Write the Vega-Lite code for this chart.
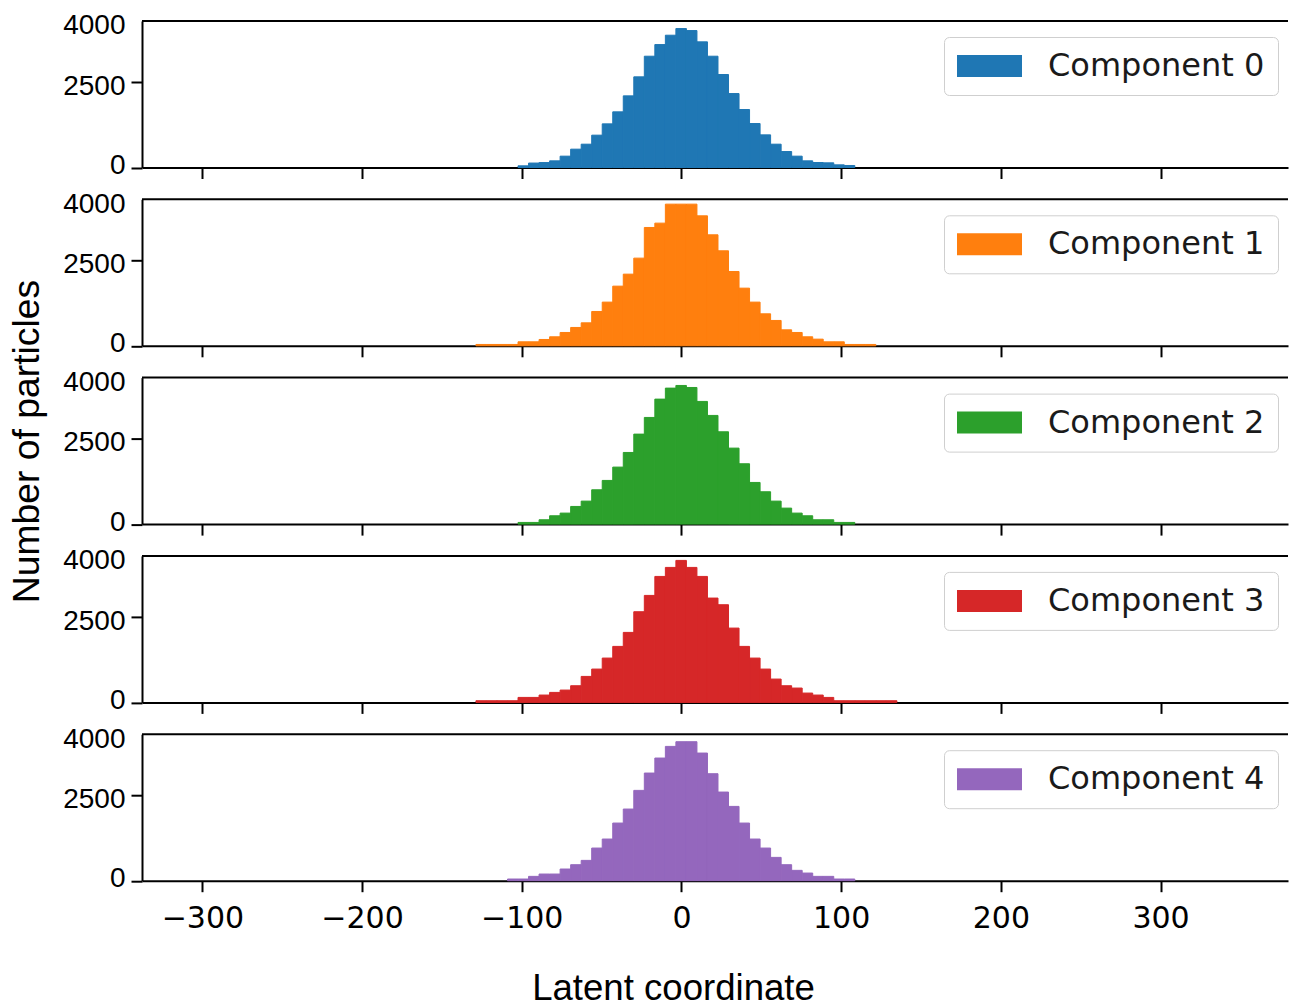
{
  "$schema": "https://vega.github.io/schema/vega-lite/v6.json",
  "padding": {"left": 7, "top": 11, "right": 0, "bottom": 0},
  "background": "white",
  "datasets": {
    "h": [
      {"c":"Component 0","b0":-102.34,"b1":-95.75,"n":49},
      {"c":"Component 0","b0":-95.75,"b1":-89.16,"n":130},
      {"c":"Component 0","b0":-89.16,"b1":-82.57,"n":145},
      {"c":"Component 0","b0":-82.57,"b1":-75.98,"n":195},
      {"c":"Component 0","b0":-75.98,"b1":-69.39,"n":332},
      {"c":"Component 0","b0":-69.39,"b1":-62.80,"n":537},
      {"c":"Component 0","b0":-62.80,"b1":-56.21,"n":683},
      {"c":"Component 0","b0":-56.21,"b1":-49.62,"n":947},
      {"c":"Component 0","b0":-49.62,"b1":-43.03,"n":1278},
      {"c":"Component 0","b0":-43.03,"b1":-36.44,"n":1630},
      {"c":"Component 0","b0":-36.44,"b1":-29.85,"n":2098},
      {"c":"Component 0","b0":-29.85,"b1":-23.26,"n":2654},
      {"c":"Component 0","b0":-23.26,"b1":-16.67,"n":3259},
      {"c":"Component 0","b0":-16.67,"b1":-10.08,"n":3600},
      {"c":"Component 0","b0":-10.08,"b1":-3.49,"n":3874},
      {"c":"Component 0","b0":-3.49,"b1":3.10,"n":4069},
      {"c":"Component 0","b0":3.10,"b1":9.69,"n":4010},
      {"c":"Component 0","b0":9.69,"b1":16.28,"n":3679},
      {"c":"Component 0","b0":16.28,"b1":22.87,"n":3259},
      {"c":"Component 0","b0":22.87,"b1":29.46,"n":2723},
      {"c":"Component 0","b0":29.46,"b1":36.05,"n":2166},
      {"c":"Component 0","b0":36.05,"b1":42.64,"n":1698},
      {"c":"Component 0","b0":42.64,"b1":49.23,"n":1288},
      {"c":"Component 0","b0":49.23,"b1":55.82,"n":956},
      {"c":"Component 0","b0":55.82,"b1":62.41,"n":683},
      {"c":"Component 0","b0":62.41,"b1":69.00,"n":468},
      {"c":"Component 0","b0":69.00,"b1":75.59,"n":332},
      {"c":"Component 0","b0":75.59,"b1":82.18,"n":195},
      {"c":"Component 0","b0":82.18,"b1":88.77,"n":146},
      {"c":"Component 0","b0":88.77,"b1":95.36,"n":137},
      {"c":"Component 0","b0":95.36,"b1":101.95,"n":78},
      {"c":"Component 0","b0":101.95,"b1":108.54,"n":59},

      {"c":"Component 1","b0":-128.70,"b1":-122.11,"n":39},
      {"c":"Component 1","b0":-122.11,"b1":-115.52,"n":39},
      {"c":"Component 1","b0":-115.52,"b1":-108.93,"n":39},
      {"c":"Component 1","b0":-108.93,"b1":-102.34,"n":39},
      {"c":"Component 1","b0":-102.34,"b1":-95.75,"n":117},
      {"c":"Component 1","b0":-95.75,"b1":-89.16,"n":117},
      {"c":"Component 1","b0":-89.16,"b1":-82.57,"n":185},
      {"c":"Component 1","b0":-82.57,"b1":-75.98,"n":264},
      {"c":"Component 1","b0":-75.98,"b1":-69.39,"n":390},
      {"c":"Component 1","b0":-69.39,"b1":-62.80,"n":537},
      {"c":"Component 1","b0":-62.80,"b1":-56.21,"n":673},
      {"c":"Component 1","b0":-56.21,"b1":-49.62,"n":1005},
      {"c":"Component 1","b0":-49.62,"b1":-43.03,"n":1279},
      {"c":"Component 1","b0":-43.03,"b1":-36.44,"n":1747},
      {"c":"Component 1","b0":-36.44,"b1":-29.85,"n":2098},
      {"c":"Component 1","b0":-29.85,"b1":-23.26,"n":2567},
      {"c":"Component 1","b0":-23.26,"b1":-16.67,"n":3465},
      {"c":"Component 1","b0":-16.67,"b1":-10.08,"n":3592},
      {"c":"Component 1","b0":-10.08,"b1":-3.49,"n":4148},
      {"c":"Component 1","b0":-3.49,"b1":3.10,"n":4148},
      {"c":"Component 1","b0":3.10,"b1":9.69,"n":4148},
      {"c":"Component 1","b0":9.69,"b1":16.28,"n":3806},
      {"c":"Component 1","b0":16.28,"b1":22.87,"n":3250},
      {"c":"Component 1","b0":22.87,"b1":29.46,"n":2782},
      {"c":"Component 1","b0":29.46,"b1":36.05,"n":2176},
      {"c":"Component 1","b0":36.05,"b1":42.64,"n":1688},
      {"c":"Component 1","b0":42.64,"b1":49.23,"n":1279},
      {"c":"Component 1","b0":49.23,"b1":55.82,"n":937},
      {"c":"Component 1","b0":55.82,"b1":62.41,"n":742},
      {"c":"Component 1","b0":62.41,"b1":69.00,"n":468},
      {"c":"Component 1","b0":69.00,"b1":75.59,"n":390},
      {"c":"Component 1","b0":75.59,"b1":82.18,"n":264},
      {"c":"Component 1","b0":82.18,"b1":88.77,"n":195},
      {"c":"Component 1","b0":88.77,"b1":95.36,"n":117},
      {"c":"Component 1","b0":95.36,"b1":101.95,"n":117},
      {"c":"Component 1","b0":101.95,"b1":108.54,"n":39},
      {"c":"Component 1","b0":108.54,"b1":115.13,"n":39},
      {"c":"Component 1","b0":115.13,"b1":121.72,"n":39},

      {"c":"Component 2","b0":-102.34,"b1":-95.75,"n":49},
      {"c":"Component 2","b0":-95.75,"b1":-89.16,"n":49},
      {"c":"Component 2","b0":-89.16,"b1":-82.57,"n":127},
      {"c":"Component 2","b0":-82.57,"b1":-75.98,"n":244},
      {"c":"Component 2","b0":-75.98,"b1":-69.39,"n":322},
      {"c":"Component 2","b0":-69.39,"b1":-62.80,"n":517},
      {"c":"Component 2","b0":-62.80,"b1":-56.21,"n":673},
      {"c":"Component 2","b0":-56.21,"b1":-49.62,"n":1005},
      {"c":"Component 2","b0":-49.62,"b1":-43.03,"n":1279},
      {"c":"Component 2","b0":-43.03,"b1":-36.44,"n":1669},
      {"c":"Component 2","b0":-36.44,"b1":-29.85,"n":2098},
      {"c":"Component 2","b0":-29.85,"b1":-23.26,"n":2635},
      {"c":"Component 2","b0":-23.26,"b1":-16.67,"n":3123},
      {"c":"Component 2","b0":-16.67,"b1":-10.08,"n":3660},
      {"c":"Component 2","b0":-10.08,"b1":-3.49,"n":3982},
      {"c":"Component 2","b0":-3.49,"b1":3.10,"n":4060},
      {"c":"Component 2","b0":3.10,"b1":9.69,"n":4001},
      {"c":"Component 2","b0":9.69,"b1":16.28,"n":3592},
      {"c":"Component 2","b0":16.28,"b1":22.87,"n":3182},
      {"c":"Component 2","b0":22.87,"b1":29.46,"n":2703},
      {"c":"Component 2","b0":29.46,"b1":36.05,"n":2225},
      {"c":"Component 2","b0":36.05,"b1":42.64,"n":1767},
      {"c":"Component 2","b0":42.64,"b1":49.23,"n":1220},
      {"c":"Component 2","b0":49.23,"b1":55.82,"n":947},
      {"c":"Component 2","b0":55.82,"b1":62.41,"n":673},
      {"c":"Component 2","b0":62.41,"b1":69.00,"n":468},
      {"c":"Component 2","b0":69.00,"b1":75.59,"n":322},
      {"c":"Component 2","b0":75.59,"b1":82.18,"n":244},
      {"c":"Component 2","b0":82.18,"b1":88.77,"n":127},
      {"c":"Component 2","b0":88.77,"b1":95.36,"n":127},
      {"c":"Component 2","b0":95.36,"b1":101.95,"n":49},
      {"c":"Component 2","b0":101.95,"b1":108.54,"n":49},

      {"c":"Component 3","b0":-128.70,"b1":-122.11,"n":49},
      {"c":"Component 3","b0":-122.11,"b1":-115.52,"n":49},
      {"c":"Component 3","b0":-115.52,"b1":-108.93,"n":49},
      {"c":"Component 3","b0":-108.93,"b1":-102.34,"n":49},
      {"c":"Component 3","b0":-102.34,"b1":-95.75,"n":146},
      {"c":"Component 3","b0":-95.75,"b1":-89.16,"n":146},
      {"c":"Component 3","b0":-89.16,"b1":-82.57,"n":215},
      {"c":"Component 3","b0":-82.57,"b1":-75.98,"n":293},
      {"c":"Component 3","b0":-75.98,"b1":-69.39,"n":361},
      {"c":"Component 3","b0":-69.39,"b1":-62.80,"n":488},
      {"c":"Component 3","b0":-62.80,"b1":-56.21,"n":761},
      {"c":"Component 3","b0":-56.21,"b1":-49.62,"n":976},
      {"c":"Component 3","b0":-49.62,"b1":-43.03,"n":1298},
      {"c":"Component 3","b0":-43.03,"b1":-36.44,"n":1640},
      {"c":"Component 3","b0":-36.44,"b1":-29.85,"n":2050},
      {"c":"Component 3","b0":-29.85,"b1":-23.26,"n":2655},
      {"c":"Component 3","b0":-23.26,"b1":-16.67,"n":3133},
      {"c":"Component 3","b0":-16.67,"b1":-10.08,"n":3689},
      {"c":"Component 3","b0":-10.08,"b1":-3.49,"n":3953},
      {"c":"Component 3","b0":-3.49,"b1":3.10,"n":4158},
      {"c":"Component 3","b0":3.10,"b1":9.69,"n":3953},
      {"c":"Component 3","b0":9.69,"b1":16.28,"n":3689},
      {"c":"Component 3","b0":16.28,"b1":22.87,"n":3055},
      {"c":"Component 3","b0":22.87,"b1":29.46,"n":2860},
      {"c":"Component 3","b0":29.46,"b1":36.05,"n":2176},
      {"c":"Component 3","b0":36.05,"b1":42.64,"n":1640},
      {"c":"Component 3","b0":42.64,"b1":49.23,"n":1298},
      {"c":"Component 3","b0":49.23,"b1":55.82,"n":976},
      {"c":"Component 3","b0":55.82,"b1":62.41,"n":683},
      {"c":"Component 3","b0":62.41,"b1":69.00,"n":488},
      {"c":"Component 3","b0":69.00,"b1":75.59,"n":420},
      {"c":"Component 3","b0":75.59,"b1":82.18,"n":273},
      {"c":"Component 3","b0":82.18,"b1":88.77,"n":215},
      {"c":"Component 3","b0":88.77,"b1":95.36,"n":146},
      {"c":"Component 3","b0":95.36,"b1":101.95,"n":49},
      {"c":"Component 3","b0":101.95,"b1":108.54,"n":49},
      {"c":"Component 3","b0":108.54,"b1":115.13,"n":49},
      {"c":"Component 3","b0":115.13,"b1":121.72,"n":49},
      {"c":"Component 3","b0":121.72,"b1":128.31,"n":49},
      {"c":"Component 3","b0":128.31,"b1":134.90,"n":49},

      {"c":"Component 4","b0":-108.93,"b1":-102.34,"n":49},
      {"c":"Component 4","b0":-102.34,"b1":-95.75,"n":49},
      {"c":"Component 4","b0":-95.75,"b1":-89.16,"n":127},
      {"c":"Component 4","b0":-89.16,"b1":-82.57,"n":195},
      {"c":"Component 4","b0":-82.57,"b1":-75.98,"n":195},
      {"c":"Component 4","b0":-75.98,"b1":-69.39,"n":342},
      {"c":"Component 4","b0":-69.39,"b1":-62.80,"n":468},
      {"c":"Component 4","b0":-62.80,"b1":-56.21,"n":595},
      {"c":"Component 4","b0":-56.21,"b1":-49.62,"n":956},
      {"c":"Component 4","b0":-49.62,"b1":-43.03,"n":1220},
      {"c":"Component 4","b0":-43.03,"b1":-36.44,"n":1688},
      {"c":"Component 4","b0":-36.44,"b1":-29.85,"n":2098},
      {"c":"Component 4","b0":-29.85,"b1":-23.26,"n":2645},
      {"c":"Component 4","b0":-23.26,"b1":-16.67,"n":3152},
      {"c":"Component 4","b0":-16.67,"b1":-10.08,"n":3592},
      {"c":"Component 4","b0":-10.08,"b1":-3.49,"n":3933},
      {"c":"Component 4","b0":-3.49,"b1":3.10,"n":4070},
      {"c":"Component 4","b0":3.10,"b1":9.69,"n":4070},
      {"c":"Component 4","b0":9.69,"b1":16.28,"n":3738},
      {"c":"Component 4","b0":16.28,"b1":22.87,"n":3133},
      {"c":"Component 4","b0":22.87,"b1":29.46,"n":2596},
      {"c":"Component 4","b0":29.46,"b1":36.05,"n":2176},
      {"c":"Component 4","b0":36.05,"b1":42.64,"n":1688},
      {"c":"Component 4","b0":42.64,"b1":49.23,"n":1220},
      {"c":"Component 4","b0":49.23,"b1":55.82,"n":956},
      {"c":"Component 4","b0":55.82,"b1":62.41,"n":683},
      {"c":"Component 4","b0":62.41,"b1":69.00,"n":468},
      {"c":"Component 4","b0":69.00,"b1":75.59,"n":303},
      {"c":"Component 4","b0":75.59,"b1":82.18,"n":224},
      {"c":"Component 4","b0":82.18,"b1":88.77,"n":127},
      {"c":"Component 4","b0":88.77,"b1":95.36,"n":127},
      {"c":"Component 4","b0":95.36,"b1":101.95,"n":49},
      {"c":"Component 4","b0":101.95,"b1":108.54,"n":49}
    ]
  },
  "spacing": 31.3,
  "bounds": "flush",
  "resolve": {"scale": {"color": "independent"}, "legend": {"color": "independent"}},
  "vconcat": [
    {
      "width": 1146, "height": 146.5,
      "layer": [
        {
          "data": {"name": "h"},
          "transform": [{"filter": "datum.c === 'Component 0'"}],
          "mark": {"type": "bar", "stroke": "#1f77b4", "strokeWidth": 1, "orient": "vertical"},
          "encoding": {
            "x": {"field": "b0", "type": "quantitative", "scale": {"domain": [-337.8, 379.8], "nice": false, "zero": false, "padding": 0},
                  "axis": {"values": [-300,-200,-100,0,100,200,300], "labels": false, "title": null}},
            "x2": {"field": "b1"},
            "y": {"field": "n", "type": "quantitative", "scale": {"domain": [0, 4290], "nice": false, "padding": 0},
                  "axis": {"values": [0,2500,4000], "format": "d", "title": null, "labelFont": "Liberation Sans", "labelFontSize": 28, "labelPadding": 6,
                           "labelOffset": {"condition": [{"test": "datum.value === 4000", "value": -5}, {"test": "datum.value === 2500", "value": 4}], "value": -2},
                           "tickOpacity": {"condition": {"test": "datum.value === 4000", "value": 0}, "value": 1}}},
            "y2": {"datum": 0},
            "color": {"field": "c", "type": "nominal", "scale": {"domain": ["Component 0"], "range": ["#1f77b4"]},
                      "legend": {"title": null, "orient": "none", "legendX": 802, "legendY": 16}}
          }
        },
        {"data": {"values": [{}]}, "mark": {"type": "rule", "color": "black", "strokeWidth": 2}, "encoding": {"y": {"datum": 4290}}}
      ]
    },
    {
      "width": 1146, "height": 146.5,
      "layer": [
        {
          "data": {"name": "h"},
          "transform": [{"filter": "datum.c === 'Component 1'"}],
          "mark": {"type": "bar", "stroke": "#ff7f0e", "strokeWidth": 1, "orient": "vertical"},
          "encoding": {
            "x": {"field": "b0", "type": "quantitative", "scale": {"domain": [-337.8, 379.8], "nice": false, "zero": false, "padding": 0},
                  "axis": {"values": [-300,-200,-100,0,100,200,300], "labels": false, "title": null}},
            "x2": {"field": "b1"},
            "y": {"field": "n", "type": "quantitative", "scale": {"domain": [0, 4290], "nice": false, "padding": 0},
                  "axis": {"values": [0,2500,4000], "format": "d", "title": null, "labelFont": "Liberation Sans", "labelFontSize": 28, "labelPadding": 6,
                           "labelOffset": {"condition": [{"test": "datum.value === 4000", "value": -5}, {"test": "datum.value === 2500", "value": 4}], "value": -2},
                           "tickOpacity": {"condition": {"test": "datum.value === 4000", "value": 0}, "value": 1}}},
            "y2": {"datum": 0},
            "color": {"field": "c", "type": "nominal", "scale": {"domain": ["Component 1"], "range": ["#ff7f0e"]},
                      "legend": {"title": null, "orient": "none", "legendX": 802, "legendY": 16}}
          }
        },
        {"data": {"values": [{}]}, "mark": {"type": "rule", "color": "black", "strokeWidth": 2}, "encoding": {"y": {"datum": 4290}}}
      ]
    },
    {
      "width": 1146, "height": 146.5,
      "layer": [
        {
          "data": {"name": "h"},
          "transform": [{"filter": "datum.c === 'Component 2'"}],
          "mark": {"type": "bar", "stroke": "#2ca02c", "strokeWidth": 1, "orient": "vertical"},
          "encoding": {
            "x": {"field": "b0", "type": "quantitative", "scale": {"domain": [-337.8, 379.8], "nice": false, "zero": false, "padding": 0},
                  "axis": {"values": [-300,-200,-100,0,100,200,300], "labels": false, "title": null}},
            "x2": {"field": "b1"},
            "y": {"field": "n", "type": "quantitative", "scale": {"domain": [0, 4290], "nice": false, "padding": 0},
                  "axis": {"values": [0,2500,4000], "format": "d", "title": "Number of particles", "labelFont": "Liberation Sans", "labelFontSize": 28, "labelPadding": 6,
                           "labelOffset": {"condition": [{"test": "datum.value === 4000", "value": -5}, {"test": "datum.value === 2500", "value": 4}], "value": -2},
                           "titleFont": "Liberation Sans", "titleFontSize": 37.3, "titleFontWeight": "normal", "titleX": -104, "titleY": 63.4,
                           "titleAngle": -90, "titleAlign": "center", "titleBaseline": "alphabetic",
                           "tickOpacity": {"condition": {"test": "datum.value === 4000", "value": 0}, "value": 1}}},
            "y2": {"datum": 0},
            "color": {"field": "c", "type": "nominal", "scale": {"domain": ["Component 2"], "range": ["#2ca02c"]},
                      "legend": {"title": null, "orient": "none", "legendX": 802, "legendY": 16}}
          }
        },
        {"data": {"values": [{}]}, "mark": {"type": "rule", "color": "black", "strokeWidth": 2}, "encoding": {"y": {"datum": 4290}}}
      ]
    },
    {
      "width": 1146, "height": 146.5,
      "layer": [
        {
          "data": {"name": "h"},
          "transform": [{"filter": "datum.c === 'Component 3'"}],
          "mark": {"type": "bar", "stroke": "#d62728", "strokeWidth": 1, "orient": "vertical"},
          "encoding": {
            "x": {"field": "b0", "type": "quantitative", "scale": {"domain": [-337.8, 379.8], "nice": false, "zero": false, "padding": 0},
                  "axis": {"values": [-300,-200,-100,0,100,200,300], "labels": false, "title": null}},
            "x2": {"field": "b1"},
            "y": {"field": "n", "type": "quantitative", "scale": {"domain": [0, 4290], "nice": false, "padding": 0},
                  "axis": {"values": [0,2500,4000], "format": "d", "title": null, "labelFont": "Liberation Sans", "labelFontSize": 28, "labelPadding": 6,
                           "labelOffset": {"condition": [{"test": "datum.value === 4000", "value": -5}, {"test": "datum.value === 2500", "value": 4}], "value": -2},
                           "tickOpacity": {"condition": {"test": "datum.value === 4000", "value": 0}, "value": 1}}},
            "y2": {"datum": 0},
            "color": {"field": "c", "type": "nominal", "scale": {"domain": ["Component 3"], "range": ["#d62728"]},
                      "legend": {"title": null, "orient": "none", "legendX": 802, "legendY": 16}}
          }
        },
        {"data": {"values": [{}]}, "mark": {"type": "rule", "color": "black", "strokeWidth": 2}, "encoding": {"y": {"datum": 4290}}}
      ]
    },
    {
      "width": 1146, "height": 146.5,
      "layer": [
        {
          "data": {"name": "h"},
          "transform": [{"filter": "datum.c === 'Component 4'"}],
          "mark": {"type": "bar", "stroke": "#9467bd", "strokeWidth": 1, "orient": "vertical"},
          "encoding": {
            "x": {"field": "b0", "type": "quantitative", "scale": {"domain": [-337.8, 379.8], "nice": false, "zero": false, "padding": 0},
                  "axis": {"values": [-300,-200,-100,0,100,200,300], "title": "Latent coordinate",
                           "labelFont": "DejaVu Sans", "labelFontSize": 30, "labelPadding": 12,
                           "labelExpr": "datum.value < 0 ? '\u2212' + abs(datum.value) : '' + datum.value",
                           "titleFont": "Liberation Sans", "titleFontSize": 36.6, "titleFontWeight": "normal",
                           "titleX": 531, "titleY": 119, "titleAlign": "center", "titleBaseline": "alphabetic"}},
            "x2": {"field": "b1"},
            "y": {"field": "n", "type": "quantitative", "scale": {"domain": [0, 4290], "nice": false, "padding": 0},
                  "axis": {"values": [0,2500,4000], "format": "d", "title": null, "labelFont": "Liberation Sans", "labelFontSize": 28, "labelPadding": 6,
                           "labelOffset": {"condition": [{"test": "datum.value === 4000", "value": -5}, {"test": "datum.value === 2500", "value": 4}], "value": -2},
                           "tickOpacity": {"condition": {"test": "datum.value === 4000", "value": 0}, "value": 1}}},
            "y2": {"datum": 0},
            "color": {"field": "c", "type": "nominal", "scale": {"domain": ["Component 4"], "range": ["#9467bd"]},
                      "legend": {"title": null, "orient": "none", "legendX": 802, "legendY": 16}}
          }
        },
        {"data": {"values": [{}]}, "mark": {"type": "rule", "color": "black", "strokeWidth": 2}, "encoding": {"y": {"datum": 4290}}}
      ]
    }
  ],
  "config": {
    "view": {"stroke": null},
    "axis": {"grid": false, "domainColor": "black", "domainWidth": 2, "tickColor": "black", "tickWidth": 2, "tickSize": 11,
             "labelColor": "black", "titleColor": "black"},
    "legend": {"symbolType": "M-1,-0.6875H3.0625V0.6875H-1Z", "symbolSize": 1024, "symbolStrokeWidth": 0, "symbolOpacity": 1,
               "labelFont": "DejaVu Sans", "labelFontSize": 32, "labelLimit": 0, "labelColor": "#1a1a1a", "labelOffset": 59, "padding": 13,
               "strokeColor": "#cfcfcf", "fillColor": "white", "cornerRadius": 5}
  }
}
